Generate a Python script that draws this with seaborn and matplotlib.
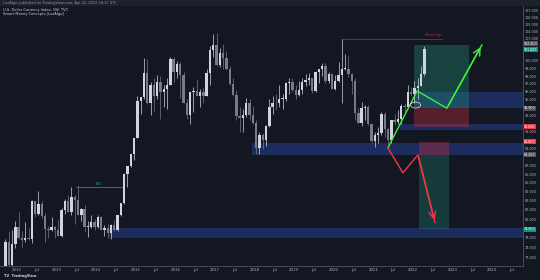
import numpy as np
import pandas as pd
import matplotlib
matplotlib.use("Agg")
import matplotlib.pyplot as plt
import seaborn as sns
from matplotlib.patches import Rectangle, Ellipse
from matplotlib.transforms import blended_transform_factory, IdentityTransform
from matplotlib.ticker import FixedLocator, FixedFormatter, NullLocator

# ---------------- data (monthly OHLC, U.S. Dollar Currency Index) ----------------
start_month = "2011-09"
end_month = "2022-04"

opens = [74.2, 78.6, 76.2, 78.4,
         80.2, 79.0, 78.8, 79.0, 78.9, 83.0, 81.6, 82.6, 81.3, 79.9, 79.8, 80.2,
         79.8, 79.2, 82.0, 83.0, 81.8, 83.4, 83.1, 81.5, 82.1, 80.2, 80.2, 80.7,
         80.2, 81.2, 79.8, 80.1, 79.5, 80.4, 79.8, 81.5, 82.8, 86.0, 86.9, 88.4,
         90.3, 94.8, 95.3, 98.4, 94.6, 96.9, 95.5, 97.3, 96.0, 96.4, 96.9, 100.2,
         98.6, 99.6, 98.2, 94.6, 93.1, 95.9, 96.1, 95.5, 96.0, 95.4, 98.4, 101.5,
         102.2, 99.5, 101.1, 100.4, 99.0, 97.0, 95.6, 92.9, 92.7, 93.1, 94.5, 93.1,
         92.1, 89.1, 90.6, 90.0, 91.7, 94.0, 94.6, 94.5, 95.1, 95.1, 97.1, 97.3,
         96.2, 95.6, 96.2, 97.3, 97.5, 97.8, 96.1, 98.5, 98.9, 99.4, 97.4, 98.3,
         96.4, 97.4, 98.1, 99.0, 99.0, 98.3, 97.4, 93.3, 92.1, 93.9, 94.0, 91.9,
         89.9, 90.6, 90.9, 93.2, 91.3, 90.0, 92.4, 92.2, 92.6, 94.2, 94.1, 95.9,
         95.7, 96.5, 96.7, 98.3]
highs = [78.9, 79.7, 79.8, 80.8,
         81.8, 79.7, 80.7, 80.1, 83.1, 83.0, 84.1, 83.0, 81.7, 80.3, 81.2, 80.3,
         80.9, 82.2, 83.2, 83.6, 84.5, 83.6, 84.8, 82.2, 82.5, 80.8, 81.5, 81.0,
         81.5, 81.3, 80.4, 80.5, 80.5, 80.9, 81.5, 82.8, 86.1, 86.9, 88.4, 90.3,
         95.5, 95.3, 100.4, 100.2, 97.3, 97.7, 98.2, 98.0, 96.9, 97.8, 100.5, 100.5,
         100.0, 99.9, 98.5, 95.0, 95.9, 96.6, 97.6, 96.4, 96.5, 99.0, 102.0, 103.7,
         103.8, 101.8, 102.3, 101.3, 99.4, 97.8, 96.2, 94.1, 93.8, 95.2, 95.1, 94.2,
         92.4, 91.0, 90.9, 91.8, 95.0, 95.5, 95.7, 96.9, 95.7, 97.2, 97.7, 97.7,
         96.9, 97.4, 97.7, 98.3, 98.4, 97.8, 98.7, 99.0, 99.7, 99.7, 98.5, 98.4,
         98.2, 99.9, 103.0, 100.9, 100.6, 98.4, 97.8, 93.9, 94.7, 94.3, 94.3, 91.9,
         91.0, 91.6, 93.4, 93.4, 91.4, 92.4, 93.2, 93.7, 94.4, 94.6, 96.9, 96.6,
         97.4, 97.8, 99.4, 102.0]
lows = [73.7, 75.2, 75.8, 77.9,
        78.9, 78.1, 78.6, 78.8, 78.5, 81.2, 81.5, 81.1, 78.6, 79.0, 79.7, 79.0,
        79.2, 79.1, 81.6, 81.8, 81.5, 80.5, 81.5, 80.8, 79.6, 79.1, 80.0, 79.8,
        80.0, 79.8, 79.2, 79.0, 78.9, 79.7, 79.7, 81.3, 82.7, 84.5, 86.8, 87.7,
        90.3, 93.2, 95.0, 94.4, 93.1, 93.5, 95.1, 92.6, 94.1, 93.8, 96.9, 97.2,
        97.7, 95.2, 94.6, 92.6, 91.9, 93.4, 95.4, 94.1, 94.5, 95.4, 96.9, 100.5,
        99.4, 99.2, 98.9, 98.8, 96.8, 95.5, 92.5, 91.0, 91.0, 92.8, 92.5, 91.9,
        88.4, 88.3, 88.9, 89.3, 91.6, 93.2, 93.7, 94.1, 93.8, 94.8, 95.7, 96.0,
        95.0, 95.4, 95.7, 96.7, 96.8, 95.8, 95.9, 97.1, 98.0, 97.1, 97.1, 96.4,
        96.2, 97.2, 94.6, 98.8, 97.9, 95.7, 92.5, 92.1, 91.7, 92.5, 91.8, 89.7,
        89.2, 89.7, 90.6, 90.4, 89.5, 89.7, 91.8, 92.0, 91.9, 93.3, 93.9, 95.5,
        94.6, 95.1, 96.7, 98.0]
closes = [78.6, 76.2, 78.4, 80.2,
          79.0, 78.8, 79.0, 78.9, 83.0, 81.6, 82.6, 81.3, 79.9, 79.8, 80.2, 79.8,
          79.2, 82.0, 83.0, 81.8, 83.4, 83.1, 81.5, 82.1, 80.2, 80.2, 80.7, 80.2,
          81.2, 79.8, 80.1, 79.5, 80.4, 79.8, 81.5, 82.8, 86.0, 86.9, 88.4, 90.3,
          94.8, 95.3, 98.4, 94.6, 96.9, 95.5, 97.3, 96.0, 96.4, 96.9, 100.2, 98.6,
          99.6, 98.2, 94.6, 93.1, 95.9, 96.1, 95.5, 96.0, 95.4, 98.4, 101.5, 102.2,
          99.5, 101.1, 100.4, 99.0, 97.0, 95.6, 92.9, 92.7, 93.1, 94.5, 93.1, 92.1,
          89.1, 90.6, 90.0, 91.7, 94.0, 94.6, 94.5, 95.1, 95.1, 97.1, 97.3, 96.2,
          95.6, 96.2, 97.3, 97.5, 97.8, 96.1, 98.5, 98.9, 99.4, 97.4, 98.3, 96.4,
          97.4, 98.1, 99.0, 99.0, 98.3, 97.4, 93.3, 92.1, 93.9, 94.0, 91.9, 89.9,
          90.6, 90.9, 93.2, 91.3, 90.0, 92.4, 92.2, 92.6, 94.2, 94.1, 95.9, 95.7,
          96.5, 96.7, 98.3, 101.6]

# x-axis labels
x_tick_years = [2012, 2012.5, 2013, 2013.5, 2014, 2014.5, 2015, 2015.5, 2016, 2016.5,
                2017, 2017.5, 2018, 2018.5, 2019, 2019.5, 2020, 2020.5, 2021, 2021.5,
                2022, 2022.5, 2023, 2023.5, 2024, 2024.5]
x_tick_labels = ["2012", "Jul", "2013", "Jul", "2014", "Jul", "2015", "Jul", "2016", "Jul",
                 "2017", "Jul", "2018", "Jul", "2019", "Jul", "2020", "Jul", "2021", "Jul",
                 "2022", "Jul", "2023", "Jul", "2024", "Jul"]
y_ticks = list(range(77, 108))

# drawn annotations (levels)
zone_starts = [2017.94, 2022.03, 2021.68, 2014.32]
zone_lows = [88.25, 93.9, 91.2, 79.0]
zone_highs = [89.7, 95.9, 91.95, 80.1]

long_x = [2022.03, 2023.41]
long_target, long_entry, long_stop = 102.2, 93.9, 91.6
short_x = [2022.15, 2022.91]
short_stop, short_entry, short_target = 89.8, 88.25, 79.9

green_path_x = [2021.37, 2022.11, 2022.86, 2023.75]
green_path_y = [89.07, 96.09, 93.9, 102.2]
red_path_x = [2021.37, 2021.75, 2022.13, 2022.56]
red_path_y = [89.07, 86.16, 88.25, 80.62]

high_level = 103.0
high_level_x = [2020.22, 2022.73]
bos_level = 84.5
bos_x = [2013.5, 2014.65]

price_tags = [(102.3, "102.200", "#50535e"), (101.5, "101.600", "#089981"),
              (93.9, "93.900", "#50535e"), (91.6, "91.600", "#f23645"),
              (89.8, "89.800", "#f23645"), (88.25, "88.250", "#50535e"),
              (79.9, "79.900", "#089981")]

# ---------------- build frame ----------------
periods = pd.period_range(start_month, end_month, freq="M")
df = pd.DataFrame({"open": opens, "high": highs, "low": lows, "close": closes})
df["x"] = periods.year + (periods.month - 1) / 12 + 1 / 24
df["up"] = df["close"] >= df["open"]

BG = "#131722"
sns.set_style("dark", {"axes.facecolor": BG, "figure.facecolor": BG})
plt.rcParams["font.family"] = ["DejaVu Sans"]

fig = plt.figure(figsize=(5.4, 2.8), dpi=100)
ax = fig.add_axes([0.0, 1 - 266 / 280, 523 / 540, (266 - 6) / 280])
ax.set_facecolor(BG)

XMIN, XMAX = 2011.5705, 2024.784
ax.set_xlim(XMIN, XMAX)
ax.set_yscale("log")
ax.set_ylim(76.1, 107.6)

# zones
for xs, lo, hi in zip(zone_starts, zone_lows, zone_highs):
    ax.add_patch(Rectangle((xs, lo), XMAX - xs, hi - lo, facecolor="#2a4bb0",
                           alpha=0.42, edgecolor="none", zorder=1))

# long position
ax.add_patch(Rectangle((long_x[0], long_entry), long_x[1] - long_x[0], long_target - long_entry,
                       facecolor="#1f8a73", alpha=0.38, edgecolor="none", zorder=1))
ax.add_patch(Rectangle((long_x[0], long_stop), long_x[1] - long_x[0], long_entry - long_stop,
                       facecolor="#c03040", alpha=0.38, edgecolor="none", zorder=1))
# short position
ax.add_patch(Rectangle((short_x[0], short_entry), short_x[1] - short_x[0], short_stop - short_entry,
                       facecolor="#c03040", alpha=0.38, edgecolor="none", zorder=1))
ax.add_patch(Rectangle((short_x[0], short_target), short_x[1] - short_x[0], short_entry - short_target,
                       facecolor="#1f8a73", alpha=0.32, edgecolor="none", zorder=1))

# candles
up_c, dn_c = "#d1d4dc", "#787b86"
colors = np.where(df["up"], up_c, dn_c)
ax.vlines(df["x"], df["low"], df["high"], colors=colors, lw=0.5, zorder=3)
body_lo = np.minimum(df["open"], df["close"])
body_h = np.maximum(np.abs(df["close"] - df["open"]), 0.08)
ax.bar(df["x"], body_h, bottom=body_lo, width=0.72 / 12, color=colors, edgecolor="none", zorder=4)

# structure lines
ax.plot(high_level_x, [high_level] * 2, color="#8c2d3a", lw=0.6, zorder=2)
ax.text(high_level_x[1], high_level * 1.002, "Weak High", color="#c03040", fontsize=2.2,
        ha="right", va="bottom")
ax.plot(bos_x, [bos_level] * 2, color="#1f8a73", lw=0.6, zorder=2)
ax.text(np.mean(bos_x), bos_level * 1.002, "BOS", color="#26a69a", fontsize=2.2,
        ha="center", va="bottom")

# zigzag projections
sns.lineplot(x=green_path_x, y=green_path_y, sort=False, color="#3df03d", lw=1.0, ax=ax, zorder=6)
ax.annotate("", xy=(green_path_x[-1], green_path_y[-1]), xytext=(green_path_x[-2], green_path_y[-2]),
            arrowprops=dict(arrowstyle="->,head_width=0.25,head_length=0.5", color="#3df03d", lw=1.0),
            zorder=6)
sns.lineplot(x=red_path_x, y=red_path_y, sort=False, color="#f23645", lw=1.0, ax=ax, zorder=6)
ax.annotate("", xy=(red_path_x[-1], red_path_y[-1]), xytext=(red_path_x[-2], red_path_y[-2]),
            arrowprops=dict(arrowstyle="->,head_width=0.25,head_length=0.5", color="#f23645", lw=1.0),
            zorder=6)

# axes styling: axis labels hidden where a price tag covers them (as on the platform)
tag_vals = [t[0] for t in price_tags]
shown_ticks = [v for v in y_ticks if min(abs(np.log(v / t)) for t in tag_vals) > 0.006]
ax.yaxis.tick_right()
ax.yaxis.set_major_locator(FixedLocator(shown_ticks))
ax.yaxis.set_major_formatter(FixedFormatter([f"{v:.3f}" for v in shown_ticks]))
ax.yaxis.set_minor_locator(NullLocator())
ax.xaxis.set_major_locator(FixedLocator(x_tick_years))
ax.xaxis.set_major_formatter(FixedFormatter(x_tick_labels))
ax.tick_params(axis="x", length=0, labelsize=2.8, colors="#b2b5be", pad=1.5)
ax.tick_params(axis="y", length=0, labelsize=2.4, colors="#b2b5be", pad=1.2)
ax.grid(False)
for s in ["top", "left"]:
    ax.spines[s].set_visible(False)
for s in ["right", "bottom"]:
    ax.spines[s].set_visible(True)
    ax.spines[s].set_color("#50535e")
    ax.spines[s].set_linewidth(0.6)
ax.set_xlabel("")
ax.set_ylabel("")

# price tags on the axis
trans = blended_transform_factory(ax.transAxes, ax.transData)
for val, txt, col in price_tags:
    ax.text(1.002, val, txt, transform=trans, fontsize=2.3, color="white", ha="left", va="center",
            bbox=dict(boxstyle="square,pad=0.15", fc=col, ec="none"), zorder=10, clip_on=False)

# ellipse marker
fig.canvas.draw()
cx, cy = ax.transData.transform((2022.07, 94.3))
ax.add_patch(Ellipse((cx, cy), 10, 6, transform=IdentityTransform(), fill=False,
                     edgecolor="#d1d4dc", lw=0.6, zorder=7))

# header and footer
fig.patches.append(Rectangle((0, 1 - 6 / 280), 1, 6 / 280, transform=fig.transFigure,
                             facecolor="#1e222d", edgecolor="none", zorder=0))
fig.text(0.006, 1 - 3 / 280, "LuxAlgo published on TradingView.com, Apr 22, 2022 18:17 UTC",
         fontsize=2.5, color="#9598a1", va="center")
fig.text(0.006, 1 - 9.5 / 280, "U.S. Dollar Currency Index, 1W, TVC", fontsize=2.6,
         color="#d1d4dc", va="center")
fig.text(0.006, 1 - 13.5 / 280, "Smart Money Concepts [LuxAlgo]", fontsize=2.6,
         color="#d1d4dc", va="center")
fig.text(0.008, 1 - 276 / 280, "TV  TradingView", fontsize=2.6, color="#d1d4dc",
         va="center", fontweight="bold")

fig.savefig("out.png", dpi=100, facecolor=BG)
